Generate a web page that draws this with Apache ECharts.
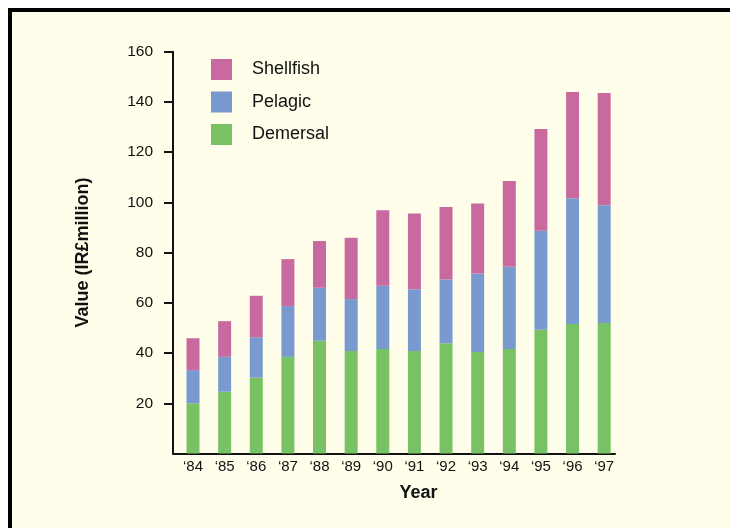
<!DOCTYPE html>
<html>
<head>
<meta charset="utf-8">
<script src="https://cdn.jsdelivr.net/npm/echarts@6/dist/echarts.min.js"></script>
<style>
  html, body { margin: 0; padding: 0; background: #ffffff; }
  #wrap { position: relative; width: 730px; height: 528px; overflow: hidden; background: #ffffff; }
  #frame { position: absolute; left: 8px; top: 8px; width: 800px; height: 600px; border: 4px solid #000; background: #fffeeb; }
  #chart { position: absolute; left: 0; top: 0; width: 730px; height: 528px; }
</style>
</head>
<body>
<div id="wrap">
  <div id="frame"></div>
  <div id="chart"></div>
</div>
<script>
const years = ['\u201884', '\u201885', '\u201886', '\u201887', '\u201888', '\u201889', '\u201890', '\u201891', '\u201892', '\u201893', '\u201894', '\u201895', '\u201896', '\u201897'];
const demersal = [20.0, 24.6, 30.2, 38.5, 44.9, 40.8, 41.6, 40.8, 43.9, 40.4, 41.6, 49.3, 51.6, 52.0];
const pelagic = [13.2, 13.9, 16.1, 20.2, 21.1, 20.7, 25.2, 24.6, 25.4, 31.3, 32.8, 39.4, 50.0, 46.9];
const shellfish = [12.7, 14.2, 16.5, 18.7, 18.6, 24.4, 30.1, 30.2, 28.9, 27.9, 34.1, 40.5, 42.4, 44.7];
const yTicks = [20, 40, 60, 80, 100, 120, 140, 160];
const legendOrder = ['Shellfish', 'Pelagic', 'Demersal'];

const FONT = 'Liberation Sans, Arial, sans-serif';
const chart = echarts.init(document.getElementById('chart'), null, { renderer: 'canvas' });

const barStyle = (c) => ({ color: c });

chart.setOption({
  backgroundColor: 'transparent',
  animation: false,
  textStyle: { fontFamily: FONT },
  legend: {
    data: legendOrder,
    orient: 'vertical',
    left: 206,
    top: 54,
    itemWidth: 21,
    itemHeight: 21,
    itemGap: 11.5,
    icon: 'rect',
    textStyle: { fontFamily: FONT, fontSize: 18, color: '#111', padding: [0, 0, 0, 15], lineHeight: 21 }
  },
  grid: [
    { left: 173, right: 115, top: 51.7, bottom: 74.5 },
    { left: 177.2, right: 110, top: 51.7, bottom: 74.5 }
  ],
  xAxis: [
    {
      type: 'category', gridIndex: 0, data: years,
      axisLine: { show: true, lineStyle: { color: '#111', width: 2 } },
      axisTick: { show: false }, axisLabel: { show: false }, splitLine: { show: false }
    },
    {
      type: 'category', gridIndex: 1, data: years,
      axisLine: { show: false }, axisTick: { show: false },
      axisLabel: { color: '#111', fontSize: 15, fontFamily: FONT, margin: 6 },
      name: 'Year', nameLocation: 'middle', nameGap: 31,
      nameTextStyle: { color: '#111', fontSize: 18, fontWeight: 'bold', fontFamily: FONT, padding: [0, 0, 0, 40] }
    }
  ],
  yAxis: [
    {
      type: 'value', gridIndex: 0, min: 0, max: 160, interval: 20,
      axisLine: { show: true, lineStyle: { color: '#111', width: 2 } },
      axisTick: { show: true, length: 9, lineStyle: { color: '#111', width: 2 }, customValues: yTicks },
      axisLabel: { color: '#111', fontSize: 15.5, fontFamily: FONT, margin: 20, customValues: yTicks },
      splitLine: { show: false },
      name: 'Value (IR\u00a3million)', nameLocation: 'middle', nameGap: 81,
      nameTextStyle: { color: '#111', fontSize: 18, fontWeight: 'bold', fontFamily: FONT }
    },
    {
      type: 'value', gridIndex: 1, min: 0, max: 160, show: false, splitLine: { show: false }
    }
  ],
  series: [
    { name: 'Demersal', type: 'bar', stack: 'v', xAxisIndex: 1, yAxisIndex: 1, barWidth: 13, data: demersal, itemStyle: barStyle('#79c264') },
    { name: 'Pelagic', type: 'bar', stack: 'v', xAxisIndex: 1, yAxisIndex: 1, barWidth: 13, data: pelagic, itemStyle: barStyle('#789ace') },
    { name: 'Shellfish', type: 'bar', stack: 'v', xAxisIndex: 1, yAxisIndex: 1, barWidth: 13, data: shellfish, itemStyle: barStyle('#c86a9f') }
  ]
});
</script>
</body>
</html>
